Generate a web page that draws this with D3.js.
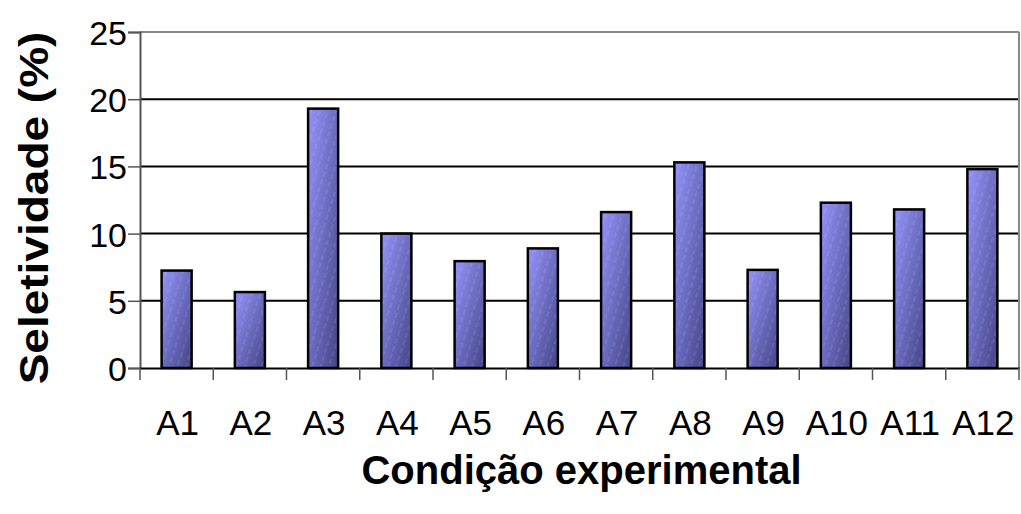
<!DOCTYPE html>
<html><head><meta charset="utf-8">
<script src="https://cdn.jsdelivr.net/npm/d3@7"></script>
<style>body{margin:0;background:#fff}svg{display:block}text{font-family:"Liberation Sans",Arial,sans-serif}</style>
</head><body>
<svg id="c" width="1021" height="514"></svg>
<script>
const categories = ["A1","A2","A3","A4","A5","A6","A7","A8","A9","A10","A11","A12"];
const values = [7.25, 5.65, 19.3, 10.0, 7.95, 8.9, 11.6, 15.3, 7.3, 12.3, 11.8, 14.8];
const yTicks = [0, 5, 10, 15, 20, 25];
const yTitle = "Seletividade (%)";
const xTitle = "Condição experimental";

const svg = d3.select("#c");
const m = {l: 140, t: 32, r: 1019, b: 368};
const x = d3.scaleBand().domain(categories).range([m.l, m.r]).paddingInner(0.59).paddingOuter(0.295);
const y = d3.scaleLinear().domain([0, 25]).range([m.b, m.t]);

const defs = svg.append("defs");
const g = defs.append("linearGradient").attr("id","bg").attr("x1",0).attr("y1",0).attr("x2",1).attr("y2",1);
g.append("stop").attr("offset","0%").attr("stop-color","#9494fa");
g.append("stop").attr("offset","100%").attr("stop-color","#444488");
const p = defs.append("pattern").attr("id","hatch").attr("patternUnits","userSpaceOnUse")
  .attr("width",8).attr("height",8).attr("patternTransform","rotate(18)");
p.append("line").attr("x1",2).attr("y1",0).attr("x2",2).attr("y2",8)
  .attr("stroke","#ffffff").attr("stroke-opacity",0.18).attr("stroke-width",1).attr("stroke-dasharray","4,3");

// gridlines
svg.append("g").selectAll("line").data(yTicks.filter(d=>d>0 && d<25)).join("line")
  .attr("x1", m.l).attr("x2", m.r).attr("y1", d=>y(d)).attr("y2", d=>y(d))
  .attr("stroke","#000").attr("stroke-width",2);
// top & right border
svg.append("line").attr("x1",m.l).attr("x2",m.r).attr("y1",y(25)).attr("y2",y(25)).attr("stroke","#888").attr("stroke-width",2);
svg.append("line").attr("x1",m.r).attr("x2",m.r).attr("y1",y(25)).attr("y2",m.b).attr("stroke","#888").attr("stroke-width",2);

// bars
const bars = svg.append("g");
bars.selectAll("rect.b").data(values).join("rect").attr("class","b")
  .attr("x",(d,i)=>x(categories[i])).attr("width",x.bandwidth())
  .attr("y",d=>y(d)).attr("height",d=>y(0)-y(d))
  .attr("fill","url(#bg)");
bars.selectAll("rect.h").data(values).join("rect").attr("class","h")
  .attr("x",(d,i)=>x(categories[i])).attr("width",x.bandwidth())
  .attr("y",d=>y(d)).attr("height",d=>y(0)-y(d))
  .attr("fill","url(#hatch)").attr("stroke","#000").attr("stroke-width",2.5);

// y axis
const ya = svg.append("g").attr("transform",`translate(${m.l},0)`)
  .call(d3.axisLeft(y).tickValues(yTicks).tickSize(12).tickPadding(4));
ya.select(".domain").attr("stroke","#555").attr("stroke-width",2);
ya.selectAll(".tick line").attr("stroke","#555").attr("stroke-width",1.5);
ya.selectAll("text").attr("font-size",34).attr("fill","#000")
  .attr("x",-13).attr("dy",null).attr("y",12.5);

// x axis
const xa = svg.append("g").attr("transform",`translate(0,${m.b})`)
  .call(d3.axisBottom(x).tickSize(0).tickPadding(0));
xa.select(".domain").attr("stroke","#000").attr("stroke-width",2);
xa.selectAll("text").attr("font-size",35).attr("fill","#000")
  .attr("y",66.5).attr("dy",null).attr("x",1);
// boundary ticks
const bounds = categories.map(c=>x(c) - x.step()*x.paddingInner()/2).concat([m.r]);
svg.append("g").selectAll("line").data(bounds).join("line")
  .attr("x1",d=>d).attr("x2",d=>d).attr("y1",m.b).attr("y2",m.b+12)
  .attr("stroke","#555").attr("stroke-width",1.5);

// titles
svg.append("text").attr("x",(m.l+m.r)/2 + 2).attr("y",484).attr("text-anchor","middle")
  .attr("font-size",40).attr("font-weight","bold").text(xTitle);
svg.append("text").attr("transform",`translate(48,${(m.t+m.b)/2 + 8}) rotate(-90) scale(1.15,1)`).attr("text-anchor","middle")
  .attr("font-size",40).attr("font-weight","bold").text(yTitle);
</script>
</body></html>
